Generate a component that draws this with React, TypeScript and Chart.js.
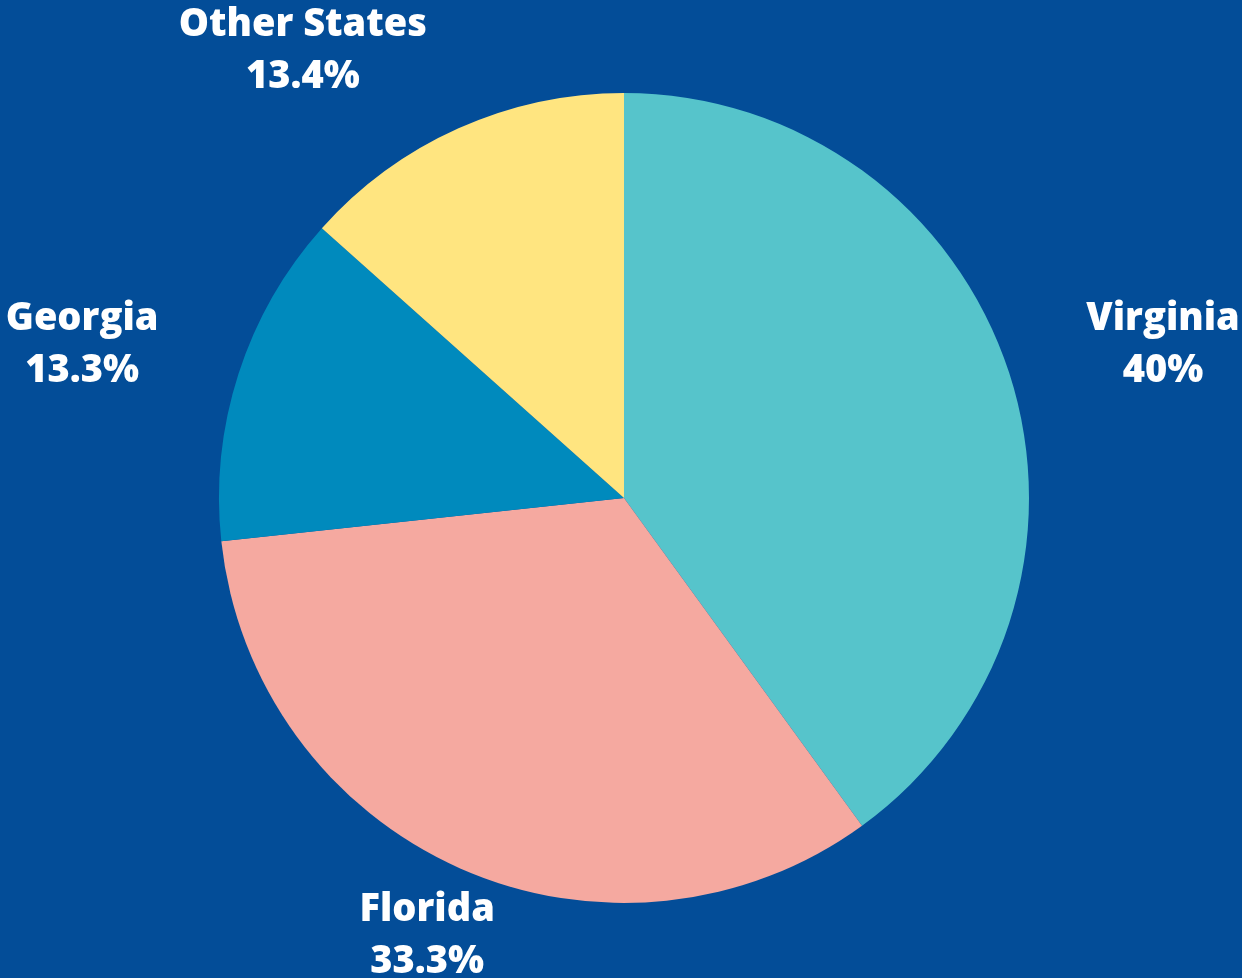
import React, { useEffect, useRef } from "react";
import { Chart, registerables } from "chart.js";

Chart.register(...registerables);

const categories = ["Virginia", "Florida", "Georgia", "Other States"];
const shares = [40, 33.3, 13.3, 13.4];
const shareLabels = ["40%", "33.3%", "13.3%", "13.4%"];
const sliceColors = ["#56C4CB", "#F5A9A0", "#008ABD", "#FFE580"];

// label block centres, in units of the pie radius, relative to the pie centre
const labelOffsetX = [1.331, -0.486, -1.338, -0.793];
const labelOffsetY = [-0.378, 1.082, -0.378, -1.104];

const BG = "#034D98";

const labelPlugin = {
  id: "outerLabels",
  afterDatasetsDraw(chart: any) {
    const ctx = chart.ctx;
    const meta = chart.getDatasetMeta(0);
    ctx.save();
    ctx.fillStyle = "#FFFFFF";
    ctx.font = "800 38px 'Open Sans'";
    ctx.textAlign = "center";
    ctx.textBaseline = "middle";
    meta.data.forEach((arc: any, i: number) => {
      const r = arc.outerRadius;
      const x = arc.x + labelOffsetX[i] * r;
      const y = arc.y + labelOffsetY[i] * r;
      ctx.fillText(categories[i], x, y - 26);
      ctx.fillText(shareLabels[i], x, y + 26);
    });
    ctx.restore();
  },
};

export default function App() {
  const ref = useRef<HTMLCanvasElement>(null);
  useEffect(() => {
    document.body.style.margin = "0";
    document.body.style.background = BG;
    const chart = new Chart(ref.current!, {
      type: "pie",
      data: {
        labels: categories,
        datasets: [
          {
            data: shares,
            backgroundColor: sliceColors,
            borderWidth: 0,
          },
        ],
      },
      options: {
        animation: false,
        responsive: false,
        maintainAspectRatio: false,
        layout: { padding: { top: 93, bottom: 75, left: 6, right: 0 } },
        plugins: {
          legend: { display: false },
          tooltip: { enabled: false },
        },
      },
      plugins: [labelPlugin],
    });
    return () => chart.destroy();
  }, []);
  return (
    <div style={{ width: 1242, height: 978, background: BG }}>
      <canvas ref={ref} width={1242} height={978} style={{ display: "block" }} />
    </div>
  );
}
